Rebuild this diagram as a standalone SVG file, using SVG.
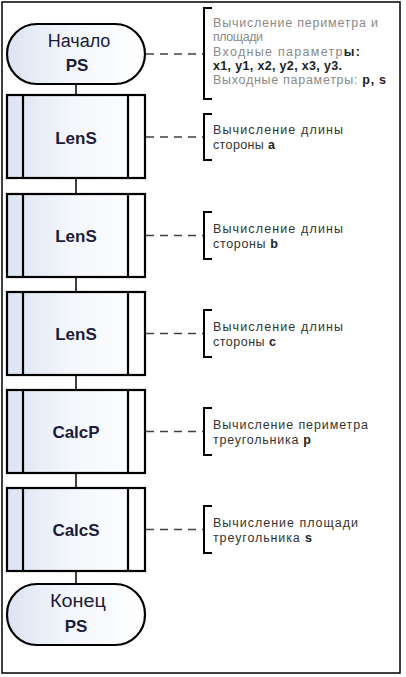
<svg xmlns="http://www.w3.org/2000/svg" width="406" height="677" viewBox="0 0 406 677">
<defs>
<linearGradient id="fillg" x1="0" y1="0" x2="1" y2="0">
<stop offset="0" stop-color="#dce4f2"/>
<stop offset="0.45" stop-color="#f3f6fb"/>
<stop offset="1" stop-color="#ffffff"/>
</linearGradient>
<style>
.frame{fill:#ffffff;stroke:#000;stroke-width:1.5}
.shape{fill:url(#fillg);stroke:#000;stroke-width:2.2}
.inner{stroke:#000;stroke-width:2.2;fill:none}
.conn{stroke:#000;stroke-width:1.5;fill:none}
.dash{stroke:#404040;stroke-width:1.5;stroke-dasharray:8 6;fill:none}
.brk{stroke:#000;stroke-width:2;fill:none}
.lbl{font-family:"Liberation Sans",Arial,sans-serif;font-size:18px;fill:#1c1c3a;text-anchor:middle}
.lblb{font-family:"Liberation Sans",Arial,sans-serif;font-size:17px;font-weight:bold;fill:#1c1c3a;text-anchor:middle}
.ann{font-family:"Liberation Sans",Arial,sans-serif;font-size:12.5px;fill:#333333}
.anng{font-family:"Liberation Sans",Arial,sans-serif;font-size:12.5px;fill:#8a8a8a}
.b{font-weight:bold;fill:#222222}
</style>
</defs>
<rect class="frame" x="2" y="2" width="398" height="671"/>
<g id="connectors">
<line class="conn" x1="76" y1="84" x2="76" y2="95"/>
<line class="conn" x1="76" y1="178" x2="76" y2="194"/>
<line class="conn" x1="76" y1="277" x2="76" y2="292"/>
<line class="conn" x1="76" y1="375" x2="76" y2="390"/>
<line class="conn" x1="76" y1="473" x2="76" y2="488"/>
<line class="conn" x1="76" y1="571" x2="76" y2="584"/>
<line class="dash" x1="146" y1="54" x2="203" y2="54"/>
<line class="dash" x1="146" y1="137" x2="203" y2="137"/>
<line class="dash" x1="146" y1="235.5" x2="203" y2="235.5"/>
<line class="dash" x1="146" y1="333.5" x2="203" y2="333.5"/>
<line class="dash" x1="146" y1="431.5" x2="203" y2="431.5"/>
<line class="dash" x1="146" y1="529.5" x2="203" y2="529.5"/>
</g>
<g id="start">
<rect class="shape" x="7" y="24" width="138" height="60" rx="30" ry="30"/>
<text class="lbl" x="79" y="47">Начало</text>
<text class="lblb" x="77" y="71">PS</text>
</g>
<g id="lens1">
<rect class="shape" x="7" y="95" width="138" height="83"/>
<line class="inner" x1="23" y1="95" x2="23" y2="178"/>
<line class="inner" x1="128" y1="95" x2="128" y2="178"/>
<text class="lblb" x="76" y="144">LenS</text>
</g>
<g id="lens2">
<rect class="shape" x="7" y="194" width="138" height="83"/>
<line class="inner" x1="23" y1="194" x2="23" y2="277"/>
<line class="inner" x1="128" y1="194" x2="128" y2="277"/>
<text class="lblb" x="76" y="242">LenS</text>
</g>
<g id="lens3">
<rect class="shape" x="7" y="292" width="138" height="83"/>
<line class="inner" x1="23" y1="292" x2="23" y2="375"/>
<line class="inner" x1="128" y1="292" x2="128" y2="375"/>
<text class="lblb" x="76" y="340">LenS</text>
</g>
<g id="calcp">
<rect class="shape" x="7" y="390" width="138" height="83"/>
<line class="inner" x1="23" y1="390" x2="23" y2="473"/>
<line class="inner" x1="128" y1="390" x2="128" y2="473"/>
<text class="lblb" x="76" y="438">CalcP</text>
</g>
<g id="calcs">
<rect class="shape" x="7" y="488" width="138" height="83"/>
<line class="inner" x1="23" y1="488" x2="23" y2="571"/>
<line class="inner" x1="128" y1="488" x2="128" y2="571"/>
<text class="lblb" x="76" y="536">CalcS</text>
</g>
<g id="end">
<rect class="shape" x="7" y="584" width="138" height="61" rx="30" ry="30"/>
<text class="lbl" x="78" y="607" textLength="56" lengthAdjust="spacingAndGlyphs">Конец</text>
<text class="lblb" x="76" y="632">PS</text>
</g>
<g id="note-ps">
<path class="brk" d="M212,8 H204 V99 H212"/>
<text class="anng" x="213" y="27" textLength="165" lengthAdjust="spacing">Вычисление периметра и</text>
<text class="anng" x="213" y="41" textLength="50" lengthAdjust="spacing">площади</text>
<text class="anng" x="213" y="55.5" textLength="147" lengthAdjust="spacing">Входные параметр<tspan class="b">ы:</tspan></text>
<text class="ann b" x="213" y="69.5" textLength="129" lengthAdjust="spacing">x1, y1, x2, y2, x3, y3.</text>
<text class="anng" x="213" y="84" textLength="173" lengthAdjust="spacing">Выходные параметры: <tspan class="b">p, s</tspan></text>
</g>
<g id="note-a">
<path class="brk" d="M212,114 H204 V160 H212"/>
<text class="ann" x="213" y="134" textLength="130" lengthAdjust="spacing">Вычисление длины</text>
<text class="ann" x="213" y="149" textLength="62" lengthAdjust="spacing">стороны <tspan class="b">a</tspan></text>
</g>
<g id="note-b">
<path class="brk" d="M212,212 H204 V259 H212"/>
<text class="ann" x="213" y="232.5" textLength="130" lengthAdjust="spacing">Вычисление длины</text>
<text class="ann" x="213" y="247.5" textLength="65" lengthAdjust="spacing">стороны <tspan class="b">b</tspan></text>
</g>
<g id="note-c">
<path class="brk" d="M212,310 H204 V357 H212"/>
<text class="ann" x="213" y="330.5" textLength="130" lengthAdjust="spacing">Вычисление длины</text>
<text class="ann" x="213" y="345.5" textLength="63" lengthAdjust="spacing">стороны <tspan class="b">c</tspan></text>
</g>
<g id="note-p">
<path class="brk" d="M212,408 H204 V455 H212"/>
<text class="ann" x="213" y="428.5" textLength="155" lengthAdjust="spacing">Вычисление периметра</text>
<text class="ann" x="213" y="443.5" textLength="98" lengthAdjust="spacing">треугольника <tspan class="b">p</tspan></text>
</g>
<g id="note-s">
<path class="brk" d="M212,506 H204 V553 H212"/>
<text class="ann" x="213" y="526.5" textLength="145" lengthAdjust="spacing">Вычисление площади</text>
<text class="ann" x="213" y="541.5" textLength="99" lengthAdjust="spacing">треугольника <tspan class="b">s</tspan></text>
</g>
</svg>
